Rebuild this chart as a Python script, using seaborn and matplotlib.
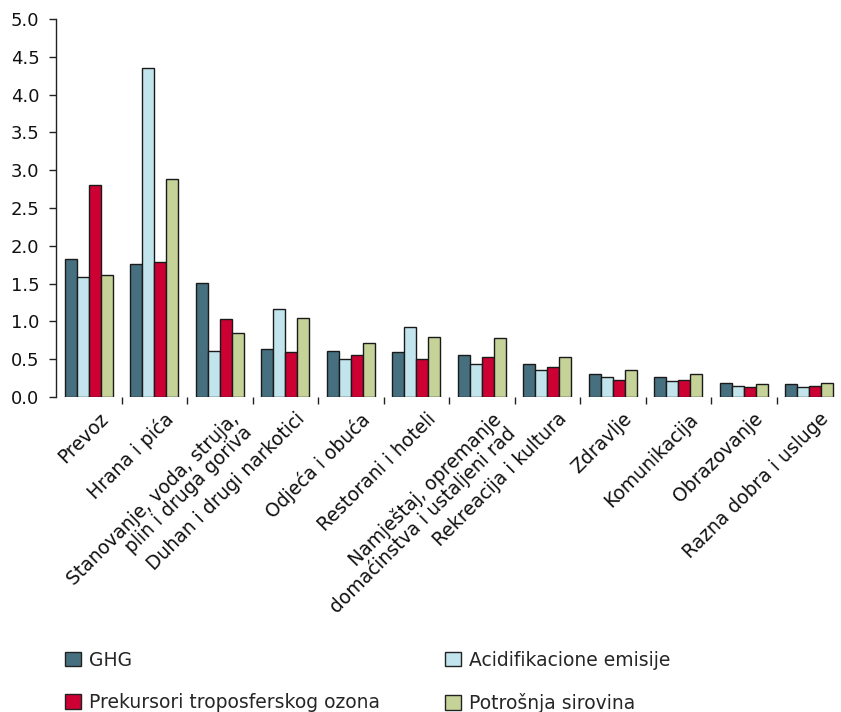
import matplotlib
matplotlib.use("Agg")
import matplotlib.pyplot as plt
import matplotlib.transforms as mtransforms
import seaborn as sns
import pandas as pd
import numpy as np
from matplotlib.patches import Patch

categories = [
    "Prevoz",
    "Hrana i pića",
    "Stanovanje, voda, struja,\nplin i druga goriva",
    "Duhan i drugi narkotici",
    "Odjeća i obuća",
    "Restorani i hoteli",
    "Namještaj, opremanje\ndomaćinstva i ustaljeni rad",
    "Rekreacija i kultura",
    "Zdravlje",
    "Komunikacija",
    "Obrazovanje",
    "Razna dobra i usluge",
]

series = ["GHG", "Acidifikacione emisije", "Prekursori troposferskog ozona", "Potrošnja sirovina"]

ghg = [1.82, 1.76, 1.51, 0.63, 0.61, 0.59, 0.55, 0.44, 0.30, 0.26, 0.19, 0.17]
acid = [1.59, 4.35, 0.61, 1.17, 0.50, 0.92, 0.44, 0.36, 0.26, 0.21, 0.15, 0.13]
ozone = [2.81, 1.78, 1.03, 0.59, 0.56, 0.50, 0.53, 0.40, 0.23, 0.23, 0.13, 0.15]
materials = [1.61, 2.89, 0.84, 1.05, 0.72, 0.80, 0.78, 0.53, 0.36, 0.30, 0.17, 0.19]

colors = ["#467080", "#c2e4ec", "#cc0033", "#c5d298"]

yticks = [0.0, 0.5, 1.0, 1.5, 2.0, 2.5, 3.0, 3.5, 4.0, 4.5, 5.0]

df = pd.DataFrame({
    "kategorija": categories * 4,
    "serija": sum([[s] * len(categories) for s in series], []),
    "vrijednost": ghg + acid + ozone + materials,
})

sns.set_style("white")
plt.rcParams["font.family"] = ["DejaVu Sans"]

fig = plt.figure(figsize=(8.41, 7.12), dpi=100)
ax = fig.add_axes([56 / 841, 1 - 397 / 712, 786 / 841, 378 / 712])

sns.barplot(
    data=df, x="kategorija", y="vrijednost", hue="serija",
    order=categories, hue_order=series, palette=colors,
    width=0.74, edgecolor="#1a1a1a", linewidth=1.0, saturation=1,
    ax=ax, legend=False,
)

ax.set_xlim(-0.5, len(categories) - 0.5)
ax.set_ylim(0, 5.0)
ax.set_yticks(yticks)
ax.set_yticklabels([f"{v:.1f}" for v in yticks], fontsize=13, color="#111111")
ax.tick_params(axis="y", direction="out", length=5, width=1, color="#222222", left=True, pad=7)

ax.set_xticks(range(len(categories)))
ax.set_xticklabels(categories, rotation=45, ha="right", rotation_mode="anchor",
                   fontsize=13.5, color="#111111", multialignment="right",
                   linespacing=1.0)
ax.tick_params(axis="x", which="major", length=0, pad=9)
ax.set_xticks(np.arange(0.5, len(categories) - 0.5, 1.0), minor=True)
ax.tick_params(axis="x", which="minor", direction="out", length=5, width=1, color="#222222", bottom=True)

# nudge the slanted category labels a little to the right
shift = mtransforms.ScaledTranslation(7 / 72, 0, fig.dpi_scale_trans)
for lab in ax.get_xticklabels():
    lab.set_transform(lab.get_transform() + shift)

ax.set_xlabel("")
ax.set_ylabel("")
for side in ["top", "right", "bottom"]:
    ax.spines[side].set_visible(False)
ax.spines["left"].set_color("#222222")
ax.spines["left"].set_linewidth(1)

# legend laid out row by row: GHG, Acid / Ozone, Materials
order = [0, 2, 1, 3]
handles = [Patch(facecolor=colors[i], edgecolor="#222222", linewidth=1) for i in order]
labels = [series[i] for i in order]
fig.legend(handles, labels, ncol=2, loc="upper left",
           bbox_to_anchor=(65 / 841, 1 - 650.5 / 712), frameon=False,
           fontsize=13.5, handlelength=0.85, handleheight=0.85, handletextpad=0.45,
           columnspacing=3.45, labelspacing=1.25, borderaxespad=0, borderpad=0)

fig.savefig("out.png", dpi=100)
